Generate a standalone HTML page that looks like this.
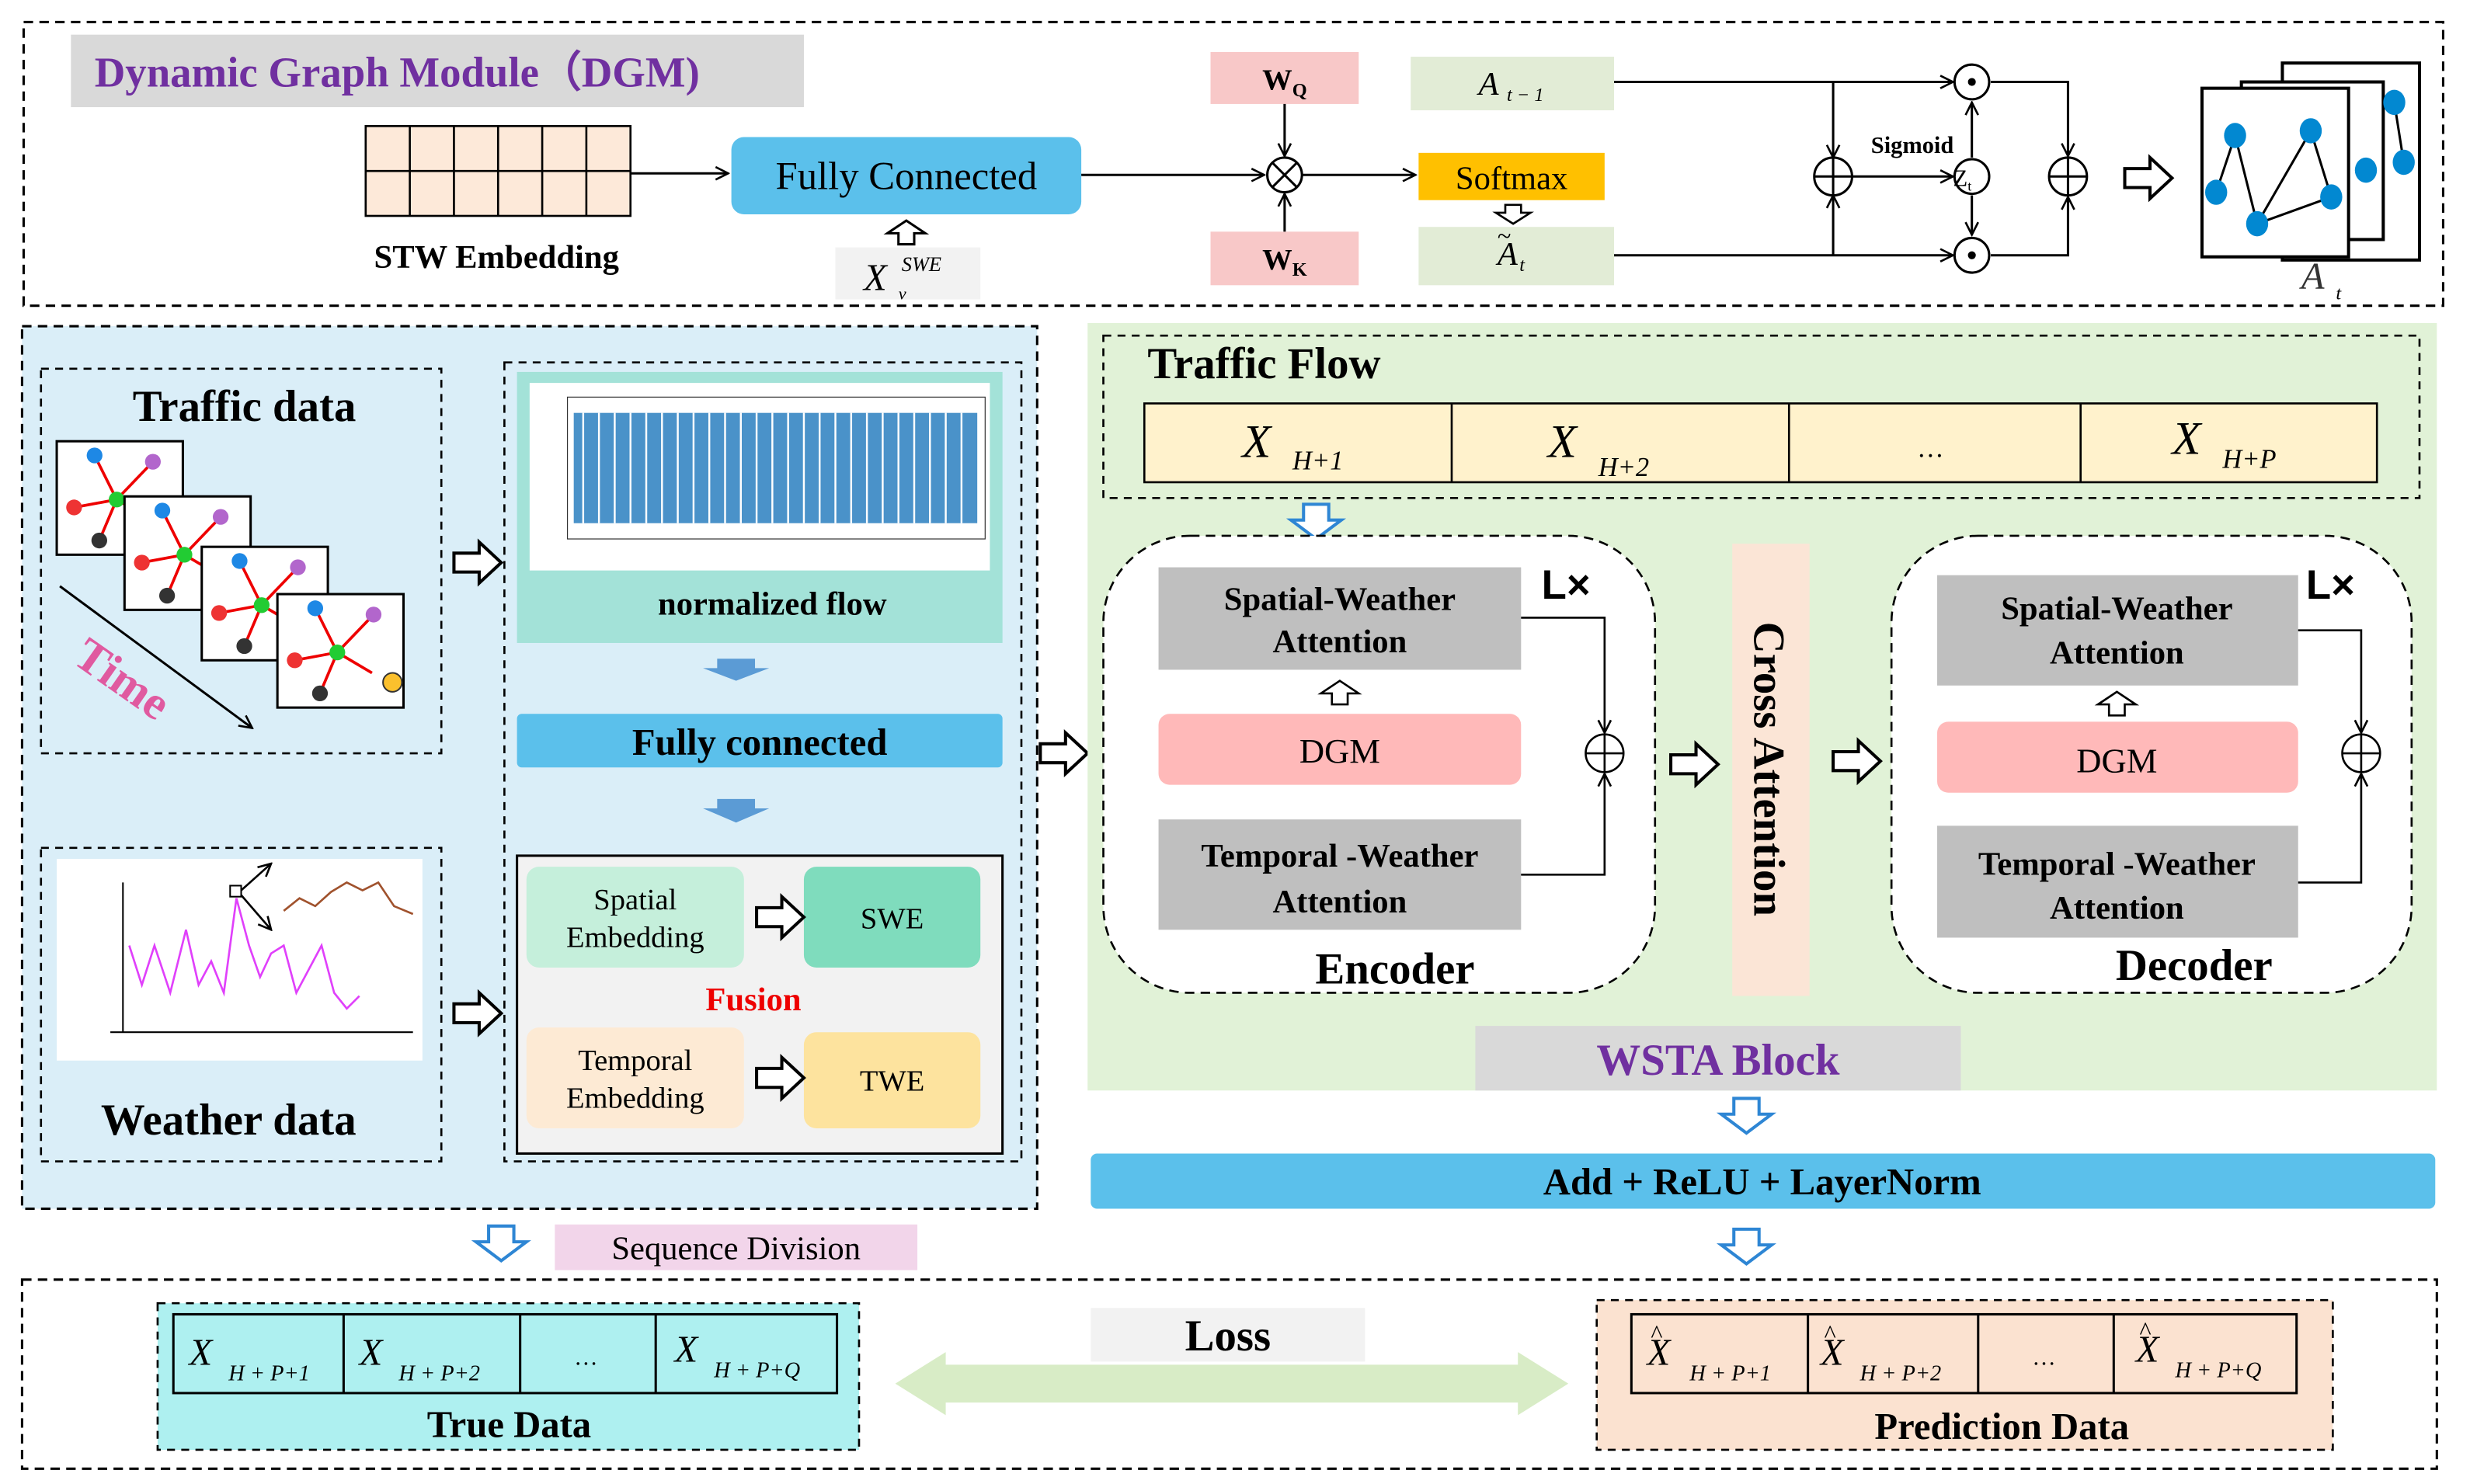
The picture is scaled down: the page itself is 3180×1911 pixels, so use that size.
<!DOCTYPE html>
<html><head><meta charset="utf-8"><style>html,body{margin:0;padding:0;background:#fff}svg{display:block}</style></head>
<body>
<svg width="3180" height="1911" viewBox="0 0 1567 941.7" preserveAspectRatio="xMinYMin meet" xmlns="http://www.w3.org/2000/svg" font-family="'Liberation Serif',serif">
<defs>
<marker id="ar" markerWidth="10" markerHeight="10" refX="9" refY="5" orient="auto" markerUnits="userSpaceOnUse"><path d="M1,1 L9,5 L1,9" fill="none" stroke="#000" stroke-width="1.3"/></marker>
<g id="hr"><path d="M0,-6 H16 V-13 L30,0 L16,13 V6 H0 Z" fill="#fff" stroke="#000" stroke-width="2"/></g>
<g id="hd"><path d="M-8,0 V10 H-16 L0,22 L16,10 H8 V0 Z" fill="#fff" stroke="#2e86d4" stroke-width="2"/></g>
</defs>
<rect width="1567" height="942" fill="#fff"/>
<!-- TOP DGM -->
<rect x="15" y="14" width="1535" height="180" fill="#fff" stroke="#000" stroke-width="1.5" stroke-dasharray="6,4"/>
<rect x="45" y="22" width="465" height="46" fill="#d9d9d9"/>
<text x="60" y="55" font-size="27" font-weight="bold" fill="#7030a0">Dynamic Graph Module（DGM)</text>
<rect x="232" y="80" width="168" height="57" fill="#fde9d9" stroke="#000" stroke-width="1.3"/>
<path d="M232,108.5H400M260,80V137M288,80V137M316,80V137M344,80V137M372,80V137" stroke="#000" stroke-width="1.3" fill="none"/>
<text x="315" y="170" font-size="21" font-weight="bold" text-anchor="middle">STW Embedding</text>
<line x1="400" y1="110" x2="462" y2="110" stroke="#000" stroke-width="1.5" marker-end="url(#ar)"/>
<rect x="464" y="87" width="222" height="49" rx="8" fill="#5bc0eb"/>
<text x="575" y="120" font-size="25" text-anchor="middle">Fully Connected</text>
<path d="M570,155 V148 H563 L575,140 L587,148 H580 V155 Z" fill="#fff" stroke="#000" stroke-width="1.5"/>
<rect x="530" y="157" width="92" height="33" fill="#f2f2f2"/>
<text x="548" y="184" font-size="24" font-style="italic">X</text><text x="572" y="172" font-size="13" font-style="italic">SWE</text><text x="570" y="190" font-size="11" font-style="italic">v</text>
<line x1="686" y1="111" x2="802" y2="111" stroke="#000" stroke-width="1.5" marker-end="url(#ar)"/>
<circle cx="815" cy="111" r="11" fill="#fff" stroke="#000" stroke-width="1.5"/>
<path d="M807,103L823,119M823,103L807,119" stroke="#000" stroke-width="1.5"/>
<rect x="768" y="33" width="94" height="33" fill="#f8c8c8"/>
<text x="815" y="57" font-size="19" font-weight="bold" text-anchor="middle">W<tspan font-size="12" dy="4">Q</tspan></text>
<rect x="768" y="147" width="94" height="34" fill="#f8c8c8"/>
<text x="815" y="171" font-size="19" font-weight="bold" text-anchor="middle">W<tspan font-size="12" dy="4">K</tspan></text>
<line x1="815" y1="66" x2="815" y2="99" stroke="#000" stroke-width="1.5" marker-end="url(#ar)"/>
<line x1="815" y1="147" x2="815" y2="123" stroke="#000" stroke-width="1.5" marker-end="url(#ar)"/>
<line x1="826" y1="111" x2="898" y2="111" stroke="#000" stroke-width="1.5" marker-end="url(#ar)"/>
<rect x="900" y="97" width="118" height="30" fill="#ffc000"/>
<text x="959" y="120" font-size="21" text-anchor="middle">Softmax</text>
<rect x="895" y="36" width="129" height="34" fill="#e2ecd6"/>
<text x="938" y="60" font-size="21" font-style="italic">A</text><text x="956" y="64" font-size="12" font-style="italic">t − 1</text>
<path d="M955,130 V135 H949 L960,142 L971,135 H965 V130 Z" fill="#fff" stroke="#000" stroke-width="1.3"/>
<rect x="900" y="144" width="124" height="37" fill="#e2ecd6"/>
<text x="950" y="168" font-size="21" font-style="italic">A</text><text x="950" y="155" font-size="16">~</text><text x="964" y="172" font-size="12" font-style="italic">t</text>
<g stroke="#000" stroke-width="1.5" fill="none">
<line x1="1024" y1="52" x2="1239" y2="52" marker-end="url(#ar)"/>
<line x1="1024" y1="162" x2="1239" y2="162" marker-end="url(#ar)"/>
<line x1="1163" y1="52" x2="1163" y2="100" marker-end="url(#ar)"/>
<line x1="1163" y1="162" x2="1163" y2="124" marker-end="url(#ar)"/>
<line x1="1175" y1="112" x2="1239" y2="112" marker-end="url(#ar)"/>
<line x1="1251" y1="100" x2="1251" y2="65" marker-end="url(#ar)"/>
<line x1="1251" y1="124" x2="1251" y2="149" marker-end="url(#ar)"/>
<path d="M1263,52 H1312 V99" marker-end="url(#ar)"/>
<path d="M1263,162 H1312 V125" marker-end="url(#ar)"/>
<circle cx="1251" cy="52" r="11" fill="#fff"/><circle cx="1251" cy="162" r="11" fill="#fff"/>
<circle cx="1163" cy="112" r="12" fill="#fff"/><path d="M1151,112H1175M1163,100V124"/>
<circle cx="1312" cy="112" r="12" fill="#fff"/><path d="M1300,112H1324M1312,100V124"/>
<circle cx="1251" cy="112" r="11" fill="#fff"/>
</g>
<circle cx="1251" cy="52" r="2.5"/><circle cx="1251" cy="162" r="2.5"/>
<text x="1245" y="118" font-size="15" text-anchor="middle">Z<tspan font-size="9" dy="3">t</tspan></text>
<text x="1187" y="97" font-size="15" font-weight="bold">Sigmoid</text>
<use href="#hr" x="1348" y="113"/>
<g stroke="#000" stroke-width="2" fill="#fff">
<rect x="1448" y="40" width="87" height="125"/><rect x="1422" y="52" width="90" height="100"/><rect x="1397" y="56" width="93" height="107"/></g>
<path d="M1406,122L1418,86L1432,142L1466,83L1479,125L1432,142M1519,65L1525,103" stroke="#000" stroke-width="1.5" fill="none"/>
<g fill="#0288d1"><ellipse cx="1406" cy="122" rx="7" ry="8"/><ellipse cx="1418" cy="86" rx="7" ry="8"/><ellipse cx="1432" cy="142" rx="7" ry="8"/><ellipse cx="1466" cy="83" rx="7" ry="8"/><ellipse cx="1479" cy="125" rx="7" ry="8"/><ellipse cx="1501" cy="108" rx="7" ry="8"/><ellipse cx="1519" cy="65" rx="7" ry="8"/><ellipse cx="1525" cy="103" rx="7" ry="8"/></g>
<text x="1460" y="183" font-size="24" font-style="italic" fill="#333">A</text><text x="1482" y="190" font-size="12" font-style="italic">t</text>

<!-- LEFT PANEL -->
<rect x="14" y="207" width="644" height="560" fill="#daeef8" stroke="#000" stroke-width="1.5" stroke-dasharray="6,4"/>
<rect x="26" y="234" width="254" height="244" fill="#daeef8" stroke="#000" stroke-width="1.3" stroke-dasharray="5,4"/>
<text x="155" y="267" font-size="28" font-weight="bold" text-anchor="middle">Traffic data</text>
<g id="card"><rect x="36" y="280" width="80" height="72" fill="#fff" stroke="#000" stroke-width="1.5"/>
<path d="M74,317L60,289M74,317L97,293M74,317L47,322M74,317L63,343M74,317L96,330" stroke="#e00" stroke-width="1.8" fill="none"/>
<circle cx="60" cy="289" r="5" fill="#1e88e5"/><circle cx="97" cy="293" r="5" fill="#b266cc"/><circle cx="47" cy="322" r="5" fill="#e33"/><circle cx="63" cy="343" r="5" fill="#333"/><circle cx="74" cy="317" r="5" fill="#2c3"/></g>
<use href="#card" x="43" y="35"/><use href="#card" x="92" y="67"/><use href="#card" x="140" y="97"/>
<circle cx="249" cy="433" r="6" fill="#fbc02d" stroke="#333"/>
<line x1="38" y1="372" x2="160" y2="462" stroke="#000" stroke-width="1.5" marker-end="url(#ar)"/>
<text x="0" y="0" font-size="30" font-weight="bold" fill="#e05aa0" transform="translate(45,420) rotate(35)">Time</text>
<rect x="26" y="538" width="254" height="199" fill="#daeef8" stroke="#000" stroke-width="1.3" stroke-dasharray="5,4"/>
<rect x="36" y="545" width="232" height="128" fill="#fff"/>
<line x1="78" y1="560" x2="78" y2="655" stroke="#000"/><line x1="70" y1="655" x2="262" y2="655" stroke="#000"/>
<polyline points="82,600 90,625 98,600 108,630 118,590 126,625 134,610 142,630 150,570 158,600 165,620 172,605 180,600 188,630 196,615 204,600 212,630 220,640 228,632" fill="none" stroke="#e040fb" stroke-width="1.3"/>
<polyline points="180,578 190,570 200,575 210,566 220,560 230,565 240,560 250,575 262,580" fill="none" stroke="#a0522d" stroke-width="1.3"/>
<rect x="146" y="562" width="7" height="7" fill="none" stroke="#000"/>
<line x1="153" y1="565" x2="172" y2="548" stroke="#000" stroke-width="1.3" marker-end="url(#ar)"/><line x1="153" y1="568" x2="172" y2="590" stroke="#000" stroke-width="1.3" marker-end="url(#ar)"/>
<text x="145" y="720" font-size="28" font-weight="bold" text-anchor="middle">Weather data</text>
<use href="#hr" x="288" y="357"/><use href="#hr" x="288" y="643"/>
<rect x="320" y="230" width="328" height="507" fill="#daeef8" stroke="#000" stroke-width="1.3" stroke-dasharray="5,4"/>
<rect x="328" y="236" width="308" height="172" fill="#a3e2d8"/>
<rect x="336" y="243" width="292" height="119" fill="#fff"/>
<rect x="360" y="252" width="265" height="90" fill="none" stroke="#333" stroke-width="0.6"/>
<rect x="364" y="262" width="256" height="70" fill="#2a7fc0" opacity="0.85"/>
<path d="M370,262V332M380,262V332M390,262V332M400,262V332M410,262V332M420,262V332M430,262V332M440,262V332M450,262V332M460,262V332M470,262V332M480,262V332M490,262V332M500,262V332M510,262V332M520,262V332M530,262V332M540,262V332M550,262V332M560,262V332M570,262V332M580,262V332M590,262V332M600,262V332M610,262V332" stroke="#fff" stroke-width="1.2" fill="none"/>
<text x="490" y="390" font-size="21" font-weight="bold" text-anchor="middle">normalized flow</text>
<path d="M455,418H479V424H488L467,432L446,424H455Z" fill="#5b9bd5"/>
<rect x="328" y="453" width="308" height="34" rx="3" fill="#5bc0eb"/>
<text x="482" y="479" font-size="24" font-weight="bold" text-anchor="middle">Fully connected</text>
<path d="M455,507H479V513H488L467,522L446,513H455Z" fill="#5b9bd5"/>
<rect x="328" y="543" width="308" height="189" fill="#f2f2f2" stroke="#000" stroke-width="1.5"/>
<rect x="334" y="550" width="138" height="64" rx="8" fill="#c5efdb"/>
<text x="403" y="577" font-size="19" text-anchor="middle">Spatial</text><text x="403" y="601" font-size="19" text-anchor="middle">Embedding</text>
<rect x="510" y="550" width="112" height="64" rx="8" fill="#7fdcbd"/>
<text x="566" y="589" font-size="19" text-anchor="middle">SWE</text>
<use href="#hr" x="480" y="582"/>
<text x="478" y="641" font-size="21" font-weight="bold" fill="#e00" text-anchor="middle">Fusion</text>
<rect x="334" y="652" width="138" height="64" rx="8" fill="#fdead4"/>
<text x="403" y="679" font-size="19" text-anchor="middle">Temporal</text><text x="403" y="703" font-size="19" text-anchor="middle">Embedding</text>
<rect x="510" y="655" width="112" height="61" rx="8" fill="#fde39e"/>
<text x="566" y="692" font-size="19" text-anchor="middle">TWE</text>
<use href="#hr" x="480" y="684"/>
<use href="#hr" x="660" y="478"/>

<!-- GREEN PANEL -->
<rect x="690" y="205" width="856" height="487" fill="#e1f2d7"/>
<rect x="700" y="213" width="835" height="103" fill="#e1f2d7" stroke="#000" stroke-width="1.3" stroke-dasharray="5,4"/>
<text x="728" y="240" font-size="28" font-weight="bold">Traffic Flow</text>
<rect x="726" y="256" width="782" height="50" fill="#fff2cc" stroke="#000" stroke-width="1.3"/>
<path d="M921,256V306M1135,256V306M1320,256V306" stroke="#000" stroke-width="1.3"/>
<g font-style="italic"><text x="788" y="290" font-size="30">X</text><text x="820" y="298" font-size="17">H+1</text>
<text x="982" y="290" font-size="30">X</text><text x="1014" y="302" font-size="17">H+2</text>
<text x="1225" y="290" font-size="17" text-anchor="middle">…</text>
<text x="1378" y="288" font-size="30">X</text><text x="1410" y="297" font-size="17">H+P</text></g>
<use href="#hd" x="835" y="320"/>
<rect x="700" y="340" width="350" height="290" rx="55" fill="#fff" stroke="#000" stroke-width="1.3" stroke-dasharray="6,4"/>
<rect x="1200" y="340" width="330" height="290" rx="55" fill="#fff" stroke="#000" stroke-width="1.3" stroke-dasharray="6,4"/>
<!-- encoder -->
<rect x="735" y="360" width="230" height="65" fill="#bfbfbf"/>
<text x="850" y="387" font-size="21" font-weight="bold" text-anchor="middle">Spatial-Weather</text><text x="850" y="414" font-size="21" font-weight="bold" text-anchor="middle">Attention</text>
<path d="M845,447V440H838L850,432L862,440H855V447Z" fill="#fff" stroke="#000" stroke-width="1.3"/>
<rect x="735" y="453" width="230" height="45" rx="7" fill="#ffb9b9"/>
<text x="850" y="484" font-size="22" text-anchor="middle">DGM</text>
<rect x="735" y="520" width="230" height="70" fill="#bfbfbf"/>
<text x="850" y="550" font-size="21" font-weight="bold" text-anchor="middle">Temporal -Weather</text><text x="850" y="579" font-size="21" font-weight="bold" text-anchor="middle">Attention</text>
<text x="978" y="380" font-size="26" font-weight="bold" font-family="'Liberation Sans',sans-serif">L×</text>
<g stroke="#000" stroke-width="1.3" fill="none"><path d="M965,392H1018V465" marker-end="url(#ar)"/><path d="M965,555H1018V491" marker-end="url(#ar)"/><circle cx="1018" cy="478" r="12" fill="#fff"/><path d="M1006,478H1030M1018,466V490"/></g>
<text x="885" y="624" font-size="28" font-weight="bold" text-anchor="middle">Encoder</text>
<!-- decoder -->
<rect x="1229" y="365" width="229" height="70" fill="#bfbfbf"/>
<text x="1343" y="393" font-size="21" font-weight="bold" text-anchor="middle">Spatial-Weather</text><text x="1343" y="421" font-size="21" font-weight="bold" text-anchor="middle">Attention</text>
<path d="M1338,454V447H1331L1343,439L1355,447H1348V454Z" fill="#fff" stroke="#000" stroke-width="1.3"/>
<rect x="1229" y="458" width="229" height="45" rx="7" fill="#ffb9b9"/>
<text x="1343" y="490" font-size="22" text-anchor="middle">DGM</text>
<rect x="1229" y="524" width="229" height="71" fill="#bfbfbf"/>
<text x="1343" y="555" font-size="21" font-weight="bold" text-anchor="middle">Temporal -Weather</text><text x="1343" y="583" font-size="21" font-weight="bold" text-anchor="middle">Attention</text>
<text x="1463" y="380" font-size="26" font-weight="bold" font-family="'Liberation Sans',sans-serif">L×</text>
<g stroke="#000" stroke-width="1.3" fill="none"><path d="M1458,400H1498V465" marker-end="url(#ar)"/><path d="M1458,560H1498V491" marker-end="url(#ar)"/><circle cx="1498" cy="478" r="12" fill="#fff"/><path d="M1486,478H1510M1498,466V490"/></g>
<text x="1392" y="622" font-size="28" font-weight="bold" text-anchor="middle">Decoder</text>
<use href="#hr" x="1060" y="485"/><use href="#hr" x="1163" y="483"/>
<rect x="1099" y="345" width="49" height="287" fill="#fbe5d6"/>
<text x="0" y="0" font-size="28" font-weight="bold" text-anchor="middle" transform="translate(1113,488) rotate(90)">Cross Attention</text>
<rect x="936" y="651" width="308" height="41" fill="#d9d9d9"/>
<text x="1090" y="682" font-size="28" font-weight="bold" fill="#7030a0" text-anchor="middle">WSTA  Block</text>
<use href="#hd" x="1108" y="697"/>
<rect x="692" y="732" width="853" height="35" rx="4" fill="#5bc0eb"/>
<text x="1118" y="758" font-size="24" font-weight="bold" text-anchor="middle">Add + ReLU + LayerNorm</text>
<use href="#hd" x="1108" y="780"/><use href="#hd" x="318" y="778"/>
<rect x="352" y="777" width="230" height="29" fill="#f2d5ea"/>
<text x="467" y="799" font-size="21" text-anchor="middle">Sequence Division</text>

<!-- BOTTOM -->
<rect x="14" y="812" width="1532" height="120" fill="#fff" stroke="#000" stroke-width="1.5" stroke-dasharray="6,4"/>
<rect x="100" y="827" width="445" height="93" fill="#aef0f0" stroke="#000" stroke-width="1.3" stroke-dasharray="5,4"/>
<rect x="110" y="834" width="421" height="50" fill="#aef0f0" stroke="#000" stroke-width="1.5"/>
<path d="M218,834V884M330,834V884M416,834V884" stroke="#000" stroke-width="1.5"/>
<g font-style="italic"><text x="120" y="866" font-size="24">X</text><text x="145" y="876" font-size="14">H + P+1</text>
<text x="228" y="866" font-size="24">X</text><text x="253" y="876" font-size="14">H + P+2</text>
<text x="372" y="866" font-size="15" text-anchor="middle">…</text>
<text x="428" y="864" font-size="24">X</text><text x="453" y="874" font-size="14">H + P+Q</text></g>
<text x="323" y="912" font-size="24" font-weight="bold" text-anchor="middle">True Data</text>
<rect x="692" y="830" width="174" height="34" fill="#f2f2f2"/>
<text x="779" y="857" font-size="28" font-weight="bold" text-anchor="middle">Loss</text>
<path d="M568,878 L600,858 V866 H963 V858 L995,878 L963,898 V890 H600 V898 Z" fill="#d8ecc6"/>
<rect x="1013" y="825" width="467" height="95" fill="#fbe2d0" stroke="#000" stroke-width="1.3" stroke-dasharray="5,4"/>
<rect x="1035" y="834" width="422" height="50" fill="#fbe2d0" stroke="#000" stroke-width="1.5"/>
<path d="M1147,834V884M1255,834V884M1341,834V884" stroke="#000" stroke-width="1.5"/>
<g font-style="italic"><text x="1045" y="866" font-size="24">X</text><text x="1047" y="852" font-size="16">^</text><text x="1072" y="876" font-size="14">H + P+1</text>
<text x="1155" y="866" font-size="24">X</text><text x="1157" y="852" font-size="16">^</text><text x="1180" y="876" font-size="14">H + P+2</text>
<text x="1297" y="866" font-size="15" text-anchor="middle">…</text>
<text x="1355" y="864" font-size="24">X</text><text x="1357" y="850" font-size="16">^</text><text x="1380" y="874" font-size="14">H + P+Q</text></g>
<text x="1270" y="913" font-size="24" font-weight="bold" text-anchor="middle">Prediction Data</text>
</svg>
</body></html>
